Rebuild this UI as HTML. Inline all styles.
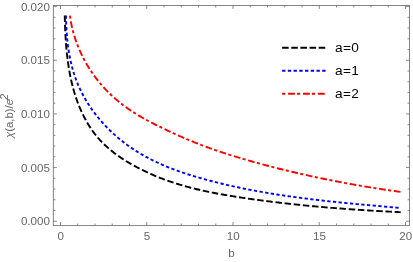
<!DOCTYPE html>
<html><head><meta charset="utf-8"><title>plot</title>
<style>
html,body{margin:0;padding:0;background:#fff;}
body{width:413px;height:262px;overflow:hidden;font-family:"Liberation Sans",sans-serif;}
svg{display:block;will-change:transform;}
text{font-family:"Liberation Sans",sans-serif;}
.tl{font-size:11.6px;fill:#666666;}
.lg{font-size:13.7px;fill:#000;}
</style></head><body>
<svg width="413" height="262" viewBox="0 0 413 262">
<rect x="0" y="0" width="413" height="262" fill="#fff"/>

<g fill="none" stroke-width="1.9" stroke-linejoin="round">
<path d="M64.78,15.60 L64.83,18.07 L64.86,19.23 L64.89,20.40 L64.92,21.56 L64.95,22.73 L64.99,23.90 L65.03,25.07 L65.07,26.24 L65.11,27.42 L65.16,28.59 L65.20,29.77 L65.25,30.95 L65.31,32.13 L65.37,33.32 L65.43,34.50 L65.49,35.69 L65.56,36.87 L65.63,38.06 L65.70,39.25 L65.78,40.44 L65.86,41.63 L65.94,42.82 L66.03,44.01 L66.13,45.20 L66.22,46.40 L66.33,47.59 L66.43,48.78 L66.54,49.98 L66.66,51.17 L66.78,52.36 L66.90,53.56 L67.03,54.75 L67.16,55.94 L67.30,57.14 L67.45,58.33 L67.60,59.52 L67.75,60.71 L67.91,61.91 L68.08,63.10 L68.25,64.29 L68.43,65.48 L68.61,66.66 L68.80,67.85 L68.99,69.04 L69.20,70.22 L69.40,71.41 L69.62,72.59 L69.84,73.77 L70.07,74.95 L70.30,76.13 L70.54,77.30 L70.79,78.48 L71.04,79.65 L71.30,80.82 L71.57,81.99 L71.85,83.15 L72.13,84.32 L72.42,85.48 L72.72,86.64 L73.03,87.79 L73.34,88.95 L73.66,90.10 L73.99,91.25 L74.33,92.40 L74.68,93.54 L75.03,94.68 L75.39,95.82 L75.76,96.95 L76.14,98.08 L76.53,99.21 L76.93,100.33 L77.33,101.46 L77.75,102.57 L78.17,103.69 L78.61,104.80 L79.05,105.90 L79.50,107.00 L79.96,108.10 L80.43,109.19 L80.91,110.28 L81.40,111.36 L81.89,112.44 L82.40,113.51 L82.91,114.58 L83.44,115.64 L83.98,116.70 L84.52,117.74 L85.07,118.79 L85.64,119.82 L86.21,120.85 L86.79,121.88 L87.38,122.89 L87.99,123.90 L88.60,124.90 L89.22,125.90 L89.85,126.88 L90.49,127.86 L91.14,128.83 L91.80,129.79 L92.47,130.75 L93.15,131.69 L93.84,132.63 L94.54,133.56 L95.25,134.47 L95.97,135.38 L96.71,136.28 L97.45,137.17 L98.20,138.05 L98.96,138.92 L99.73,139.78 L100.51,140.63 L101.30,141.47 L102.10,142.30 L102.92,143.12 L103.74,143.93 L104.56,144.74 L105.40,145.53 L106.25,146.31 L107.10,147.09 L107.97,147.85 L108.84,148.61 L109.72,149.36 L110.61,150.10 L111.50,150.83 L112.41,151.55 L113.32,152.27 L114.23,152.97 L115.16,153.67 L116.09,154.36 L117.03,155.04 L117.97,155.72 L118.92,156.39 L119.88,157.05 L120.85,157.70 L121.81,158.35 L122.79,158.99 L123.77,159.62 L124.76,160.24 L125.75,160.86 L126.74,161.48 L127.74,162.08 L128.75,162.68 L129.76,163.27 L130.77,163.86 L131.79,164.44 L132.81,165.02 L133.83,165.59 L134.86,166.15 L135.90,166.71 L136.93,167.26 L137.97,167.81 L139.01,168.35 L140.06,168.89 L141.11,169.42 L142.16,169.94 L143.22,170.46 L144.28,170.97 L145.34,171.48 L146.40,171.98 L147.47,172.48 L148.54,172.97 L149.62,173.46 L150.69,173.94 L151.77,174.42 L152.86,174.89 L153.94,175.35 L155.03,175.81 L156.12,176.27 L157.22,176.72 L158.31,177.16 L159.41,177.60 L160.52,178.03 L161.62,178.46 L162.73,178.88 L163.84,179.30 L164.95,179.71 L166.06,180.12 L167.18,180.52 L168.30,180.92 L169.42,181.31 L170.54,181.69 L171.67,182.08 L172.80,182.45 L173.93,182.82 L175.06,183.19 L176.19,183.55 L177.33,183.91 L178.47,184.26 L179.61,184.60 L180.75,184.94 L181.89,185.28 L183.04,185.61 L184.19,185.94 L185.34,186.26 L186.49,186.58 L187.64,186.89 L188.80,187.20 L189.95,187.51 L191.11,187.81 L192.27,188.11 L193.43,188.40 L194.59,188.69 L195.75,188.97 L196.92,189.25 L198.08,189.53 L199.25,189.80 L200.42,190.07 L201.59,190.34 L202.76,190.60 L203.93,190.86 L205.10,191.11 L206.28,191.36 L207.45,191.61 L208.63,191.85 L209.80,192.10 L210.98,192.33 L212.16,192.57 L213.34,192.80 L214.52,193.03 L215.70,193.26 L216.88,193.48 L218.06,193.70 L219.24,193.92 L220.43,194.14 L221.61,194.35 L222.80,194.56 L223.98,194.77 L225.17,194.97 L226.35,195.18 L227.54,195.38 L228.72,195.58 L229.91,195.77 L231.09,195.97 L232.28,196.16 L233.47,196.35 L234.66,196.54 L235.84,196.73 L237.03,196.91 L238.22,197.10 L239.40,197.28 L240.59,197.46 L241.78,197.64 L242.96,197.82 L244.15,197.99 L245.33,198.17 L246.52,198.34 L247.71,198.51 L248.89,198.69 L250.08,198.86 L251.26,199.02 L252.45,199.19 L253.63,199.36 L254.81,199.52 L256.00,199.69 L257.18,199.85 L258.37,200.01 L259.55,200.17 L260.73,200.33 L261.92,200.48 L263.10,200.64 L264.28,200.80 L265.47,200.95 L266.65,201.10 L267.83,201.25 L269.02,201.40 L270.20,201.55 L271.38,201.70 L272.56,201.85 L273.74,201.99 L274.93,202.13 L276.11,202.28 L277.29,202.42 L278.47,202.56 L279.66,202.70 L280.84,202.84 L282.02,202.98 L283.20,203.11 L284.38,203.25 L285.56,203.38 L286.75,203.51 L287.93,203.65 L289.11,203.78 L290.29,203.91 L291.47,204.04 L292.65,204.16 L293.84,204.29 L295.02,204.42 L296.20,204.54 L297.38,204.66 L298.56,204.79 L299.74,204.91 L300.93,205.03 L302.11,205.15 L303.29,205.27 L304.47,205.38 L305.65,205.50 L306.84,205.62 L308.02,205.73 L309.20,205.84 L310.38,205.96 L311.57,206.07 L312.75,206.18 L313.93,206.29 L315.12,206.40 L316.30,206.51 L317.48,206.61 L318.67,206.72 L319.85,206.82 L321.03,206.93 L322.22,207.03 L323.40,207.13 L324.58,207.24 L325.77,207.34 L326.95,207.44 L328.14,207.54 L329.32,207.63 L330.51,207.73 L331.69,207.83 L332.88,207.92 L334.06,208.02 L335.25,208.11 L336.44,208.21 L337.62,208.30 L338.81,208.39 L340.00,208.48 L341.18,208.57 L342.37,208.66 L343.56,208.75 L344.75,208.84 L345.93,208.92 L347.12,209.01 L348.31,209.10 L349.50,209.18 L350.69,209.26 L351.88,209.35 L353.07,209.43 L354.26,209.51 L355.45,209.59 L356.64,209.67 L357.83,209.75 L359.02,209.83 L360.22,209.91 L361.41,209.99 L362.60,210.07 L363.79,210.14 L364.99,210.22 L366.18,210.29 L367.38,210.37 L368.57,210.44 L369.77,210.51 L370.96,210.59 L372.16,210.66 L373.35,210.73 L374.55,210.80 L375.75,210.87 L376.94,210.94 L378.14,211.01 L379.34,211.08 L380.54,211.15 L381.74,211.21 L382.94,211.28 L384.14,211.35 L385.34,211.41 L386.54,211.48 L387.74,211.54 L388.94,211.61 L390.15,211.67 L391.35,211.73 L392.55,211.80 L393.76,211.86 L394.96,211.92 L396.17,211.98 L397.37,212.04 L398.58,212.10 L399.79,212.16 L400.70,212.21" stroke="#000" stroke-dasharray="6.5 2.7"/>
<path d="M65.95,15.60 L65.97,16.95 L66.00,18.17 L66.04,19.39 L66.07,20.60 L66.11,21.82 L66.16,23.03 L66.21,24.24 L66.26,25.45 L66.32,26.65 L66.38,27.85 L66.45,29.06 L66.52,30.26 L66.60,31.45 L66.68,32.65 L66.77,33.84 L66.86,35.03 L66.96,36.22 L67.06,37.40 L67.17,38.59 L67.29,39.77 L67.41,40.95 L67.54,42.12 L67.67,43.29 L67.81,44.46 L67.96,45.63 L68.11,46.80 L68.27,47.96 L68.44,49.12 L68.61,50.27 L68.79,51.43 L68.98,52.58 L69.17,53.73 L69.37,54.87 L69.58,56.01 L69.80,57.15 L70.02,58.29 L70.25,59.42 L70.49,60.55 L70.74,61.67 L71.00,62.80 L71.26,63.92 L71.53,65.03 L71.81,66.15 L72.10,67.26 L72.40,68.36 L72.70,69.46 L73.02,70.56 L73.34,71.66 L73.68,72.75 L74.02,73.84 L74.37,74.92 L74.73,76.00 L75.11,77.08 L75.49,78.15 L75.88,79.22 L76.28,80.29 L76.69,81.35 L77.11,82.41 L77.54,83.46 L77.98,84.51 L78.42,85.56 L78.88,86.60 L79.35,87.63 L79.83,88.67 L80.31,89.70 L80.81,90.72 L81.31,91.74 L81.83,92.76 L82.35,93.77 L82.88,94.78 L83.42,95.78 L83.97,96.78 L84.52,97.77 L85.09,98.76 L85.66,99.74 L86.25,100.72 L86.84,101.70 L87.44,102.67 L88.05,103.64 L88.66,104.60 L89.28,105.55 L89.92,106.50 L90.56,107.45 L91.20,108.39 L91.86,109.33 L92.52,110.26 L93.19,111.18 L93.87,112.11 L94.55,113.02 L95.25,113.93 L95.95,114.84 L96.65,115.74 L97.37,116.63 L98.09,117.52 L98.82,118.41 L99.56,119.28 L100.30,120.16 L101.05,121.03 L101.80,121.89 L102.57,122.74 L103.34,123.60 L104.11,124.44 L104.89,125.28 L105.68,126.11 L106.48,126.94 L107.28,127.77 L108.09,128.58 L108.90,129.39 L109.72,130.20 L110.54,131.00 L111.38,131.79 L112.21,132.58 L113.06,133.36 L113.90,134.13 L114.76,134.90 L115.62,135.66 L116.48,136.42 L117.35,137.17 L118.23,137.91 L119.11,138.65 L119.99,139.38 L120.89,140.10 L121.78,140.82 L122.68,141.53 L123.59,142.23 L124.50,142.93 L125.41,143.62 L126.33,144.31 L127.26,144.99 L128.19,145.66 L129.12,146.32 L130.06,146.98 L131.00,147.63 L131.95,148.27 L132.90,148.91 L133.85,149.54 L134.81,150.16 L135.77,150.78 L136.74,151.39 L137.71,151.99 L138.68,152.59 L139.66,153.18 L140.64,153.76 L141.62,154.34 L142.61,154.91 L143.60,155.47 L144.60,156.03 L145.60,156.58 L146.60,157.13 L147.60,157.67 L148.61,158.20 L149.62,158.73 L150.64,159.25 L151.66,159.77 L152.68,160.28 L153.70,160.78 L154.73,161.28 L155.76,161.77 L156.79,162.26 L157.83,162.74 L158.87,163.22 L159.91,163.69 L160.95,164.16 L162.00,164.62 L163.05,165.07 L164.10,165.52 L165.16,165.97 L166.21,166.41 L167.27,166.85 L168.33,167.28 L169.40,167.70 L170.46,168.13 L171.53,168.54 L172.60,168.95 L173.67,169.36 L174.75,169.77 L175.82,170.17 L176.90,170.56 L177.98,170.95 L179.06,171.34 L180.15,171.72 L181.23,172.10 L182.32,172.47 L183.41,172.84 L184.50,173.21 L185.59,173.57 L186.68,173.93 L187.78,174.28 L188.87,174.63 L189.97,174.98 L191.07,175.32 L192.17,175.66 L193.27,176.00 L194.37,176.34 L195.47,176.67 L196.58,176.99 L197.68,177.32 L198.79,177.64 L199.89,177.96 L201.00,178.27 L202.11,178.58 L203.22,178.89 L204.33,179.20 L205.44,179.50 L206.55,179.81 L207.66,180.10 L208.77,180.40 L209.88,180.69 L210.99,180.98 L212.11,181.27 L213.22,181.56 L214.33,181.84 L215.44,182.13 L216.56,182.41 L217.67,182.68 L218.79,182.96 L219.90,183.23 L221.01,183.50 L222.13,183.77 L223.24,184.04 L224.36,184.30 L225.48,184.56 L226.59,184.82 L227.71,185.08 L228.82,185.33 L229.94,185.59 L231.06,185.84 L232.17,186.09 L233.29,186.34 L234.41,186.58 L235.53,186.82 L236.65,187.06 L237.77,187.30 L238.88,187.54 L240.00,187.78 L241.12,188.01 L242.24,188.24 L243.36,188.47 L244.48,188.70 L245.61,188.92 L246.73,189.15 L247.85,189.37 L248.97,189.59 L250.09,189.81 L251.21,190.02 L252.34,190.24 L253.46,190.45 L254.58,190.66 L255.71,190.87 L256.83,191.07 L257.95,191.28 L259.08,191.48 L260.20,191.69 L261.33,191.89 L262.45,192.08 L263.58,192.28 L264.70,192.48 L265.83,192.67 L266.96,192.86 L268.08,193.05 L269.21,193.24 L270.34,193.43 L271.47,193.61 L272.59,193.80 L273.72,193.98 L274.85,194.16 L275.98,194.34 L277.11,194.52 L278.24,194.69 L279.37,194.87 L280.50,195.04 L281.63,195.21 L282.76,195.38 L283.89,195.55 L285.02,195.72 L286.15,195.89 L287.29,196.05 L288.42,196.22 L289.55,196.38 L290.68,196.54 L291.82,196.70 L292.95,196.86 L294.09,197.02 L295.22,197.17 L296.35,197.33 L297.49,197.48 L298.62,197.63 L299.76,197.78 L300.90,197.93 L302.03,198.08 L303.17,198.23 L304.31,198.37 L305.44,198.52 L306.58,198.66 L307.72,198.80 L308.86,198.95 L310.00,199.09 L311.14,199.23 L312.27,199.36 L313.41,199.50 L314.55,199.64 L315.69,199.77 L316.83,199.91 L317.98,200.04 L319.12,200.17 L320.26,200.30 L321.40,200.44 L322.54,200.56 L323.69,200.69 L324.83,200.82 L325.97,200.95 L327.12,201.07 L328.26,201.20 L329.40,201.32 L330.55,201.45 L331.69,201.57 L332.84,201.69 L333.99,201.81 L335.13,201.93 L336.28,202.05 L337.43,202.17 L338.57,202.29 L339.72,202.41 L340.87,202.52 L342.02,202.64 L343.16,202.75 L344.31,202.87 L345.46,202.98 L346.61,203.10 L347.76,203.21 L348.91,203.32 L350.06,203.43 L351.21,203.54 L352.37,203.65 L353.52,203.76 L354.67,203.87 L355.82,203.98 L356.98,204.09 L358.13,204.20 L359.28,204.30 L360.44,204.41 L361.59,204.52 L362.75,204.62 L363.90,204.73 L365.06,204.84 L366.21,204.94 L367.37,205.04 L368.52,205.15 L369.68,205.25 L370.84,205.36 L372.00,205.46 L373.15,205.56 L374.31,205.67 L375.47,205.77 L376.63,205.87 L377.79,205.97 L378.95,206.07 L380.11,206.17 L381.27,206.28 L382.43,206.38 L383.59,206.48 L384.76,206.58 L385.92,206.68 L387.08,206.78 L388.24,206.88 L389.41,206.98 L390.57,207.08 L391.74,207.18 L392.90,207.28 L394.06,207.38 L395.23,207.48 L396.40,207.58 L397.56,207.68 L398.73,207.78 L399.90,207.88 L400.70,207.95" stroke="#0000ff" stroke-dasharray="3.3 2.4"/>
<path d="M69.97,15.60 L70.10,16.62 L70.24,17.66 L70.39,18.70 L70.56,19.74 L70.73,20.78 L70.91,21.82 L71.10,22.85 L71.30,23.89 L71.51,24.93 L71.73,25.97 L71.96,27.00 L72.20,28.04 L72.44,29.08 L72.70,30.11 L72.97,31.14 L73.24,32.18 L73.53,33.21 L73.82,34.24 L74.13,35.27 L74.44,36.29 L74.76,37.32 L75.09,38.34 L75.43,39.36 L75.77,40.38 L76.13,41.40 L76.49,42.42 L76.87,43.43 L77.25,44.44 L77.64,45.45 L78.03,46.45 L78.44,47.46 L78.86,48.46 L79.28,49.45 L79.71,50.45 L80.15,51.44 L80.59,52.42 L81.05,53.41 L81.51,54.39 L81.98,55.36 L82.46,56.34 L82.94,57.31 L83.44,58.27 L83.94,59.23 L84.45,60.19 L84.96,61.14 L85.48,62.09 L86.01,63.03 L86.55,63.97 L87.10,64.90 L87.65,65.83 L88.21,66.76 L88.77,67.67 L89.34,68.59 L89.92,69.50 L90.51,70.40 L91.10,71.30 L91.70,72.19 L92.31,73.07 L92.92,73.96 L93.54,74.83 L94.16,75.70 L94.80,76.56 L95.43,77.42 L96.08,78.27 L96.73,79.11 L97.39,79.95 L98.05,80.78 L98.72,81.61 L99.39,82.43 L100.07,83.24 L100.76,84.05 L101.45,84.85 L102.15,85.65 L102.85,86.44 L103.56,87.23 L104.28,88.00 L105.00,88.78 L105.72,89.54 L106.45,90.30 L107.19,91.06 L107.93,91.81 L108.68,92.55 L109.43,93.29 L110.18,94.02 L110.95,94.74 L111.71,95.46 L112.48,96.18 L113.26,96.88 L114.04,97.58 L114.82,98.28 L115.61,98.97 L116.41,99.65 L117.21,100.33 L118.01,101.00 L118.82,101.67 L119.63,102.33 L120.45,102.98 L121.27,103.63 L122.09,104.27 L122.92,104.91 L123.75,105.54 L124.59,106.16 L125.43,106.78 L126.27,107.39 L127.12,108.00 L127.97,108.60 L128.82,109.19 L129.68,109.78 L130.54,110.36 L131.41,110.94 L132.28,111.51 L133.15,112.08 L134.02,112.64 L134.90,113.19 L135.78,113.74 L136.67,114.29 L137.55,114.83 L138.44,115.36 L139.34,115.89 L140.23,116.42 L141.13,116.94 L142.03,117.46 L142.94,117.97 L143.84,118.48 L144.75,118.99 L145.66,119.49 L146.58,119.99 L147.49,120.49 L148.41,120.98 L149.33,121.47 L150.25,121.95 L151.18,122.44 L152.10,122.92 L153.03,123.40 L153.96,123.87 L154.90,124.35 L155.83,124.82 L156.77,125.29 L157.70,125.76 L158.64,126.22 L159.58,126.69 L160.52,127.15 L161.47,127.61 L162.41,128.07 L163.36,128.53 L164.31,128.99 L165.26,129.44 L166.21,129.90 L167.16,130.35 L168.11,130.80 L169.07,131.25 L170.02,131.70 L170.98,132.14 L171.94,132.59 L172.90,133.03 L173.86,133.47 L174.82,133.91 L175.79,134.35 L176.75,134.78 L177.72,135.21 L178.69,135.65 L179.66,136.08 L180.63,136.50 L181.60,136.93 L182.57,137.35 L183.55,137.77 L184.52,138.19 L185.50,138.61 L186.48,139.03 L187.46,139.44 L188.44,139.85 L189.42,140.26 L190.40,140.67 L191.38,141.08 L192.37,141.48 L193.35,141.88 L194.34,142.28 L195.33,142.67 L196.32,143.07 L197.31,143.46 L198.30,143.85 L199.29,144.24 L200.29,144.62 L201.28,145.01 L202.28,145.39 L203.28,145.77 L204.27,146.14 L205.27,146.51 L206.27,146.89 L207.27,147.25 L208.28,147.62 L209.28,147.98 L210.28,148.34 L211.29,148.70 L212.29,149.06 L213.30,149.41 L214.31,149.76 L215.32,150.11 L216.33,150.46 L217.34,150.81 L218.35,151.15 L219.36,151.49 L220.38,151.83 L221.39,152.16 L222.40,152.50 L223.42,152.83 L224.44,153.16 L225.45,153.49 L226.47,153.82 L227.49,154.14 L228.51,154.47 L229.53,154.79 L230.55,155.11 L231.58,155.43 L232.60,155.75 L233.62,156.06 L234.65,156.38 L235.67,156.69 L236.70,157.00 L237.72,157.31 L238.75,157.62 L239.78,157.92 L240.81,158.23 L241.84,158.53 L242.87,158.84 L243.90,159.14 L244.93,159.44 L245.96,159.74 L247.00,160.04 L248.03,160.34 L249.06,160.63 L250.10,160.93 L251.13,161.22 L252.17,161.51 L253.20,161.80 L254.24,162.10 L255.28,162.38 L256.32,162.67 L257.35,162.96 L258.39,163.25 L259.43,163.53 L260.47,163.81 L261.51,164.10 L262.55,164.38 L263.59,164.66 L264.64,164.94 L265.68,165.21 L266.72,165.49 L267.76,165.77 L268.81,166.04 L269.85,166.31 L270.90,166.59 L271.94,166.86 L272.99,167.13 L274.03,167.40 L275.08,167.66 L276.12,167.93 L277.17,168.20 L278.22,168.46 L279.26,168.72 L280.31,168.98 L281.36,169.25 L282.41,169.50 L283.46,169.76 L284.50,170.02 L285.55,170.28 L286.60,170.53 L287.65,170.79 L288.70,171.04 L289.75,171.29 L290.80,171.54 L291.85,171.79 L292.90,172.04 L293.95,172.29 L295.00,172.53 L296.05,172.78 L297.11,173.02 L298.16,173.27 L299.21,173.51 L300.26,173.75 L301.31,173.99 L302.36,174.23 L303.42,174.46 L304.47,174.70 L305.52,174.94 L306.57,175.17 L307.62,175.40 L308.68,175.63 L309.73,175.87 L310.78,176.10 L311.83,176.32 L312.89,176.55 L313.94,176.78 L314.99,177.00 L316.04,177.23 L317.10,177.45 L318.15,177.67 L319.20,177.89 L320.25,178.11 L321.30,178.33 L322.36,178.55 L323.41,178.77 L324.46,178.98 L325.51,179.20 L326.56,179.41 L327.62,179.62 L328.67,179.84 L329.72,180.05 L330.77,180.26 L331.82,180.46 L332.87,180.67 L333.92,180.88 L334.97,181.08 L336.02,181.29 L337.07,181.49 L338.12,181.69 L339.17,181.89 L340.22,182.09 L341.27,182.29 L342.32,182.49 L343.37,182.68 L344.41,182.88 L345.46,183.07 L346.51,183.27 L347.56,183.46 L348.60,183.65 L349.65,183.84 L350.70,184.03 L351.74,184.22 L352.79,184.40 L353.83,184.59 L354.88,184.77 L355.92,184.96 L356.97,185.14 L358.01,185.32 L359.06,185.50 L360.10,185.68 L361.14,185.86 L362.18,186.04 L363.22,186.22 L364.27,186.39 L365.31,186.57 L366.35,186.74 L367.39,186.91 L368.42,187.08 L369.46,187.25 L370.50,187.42 L371.54,187.59 L372.58,187.76 L373.61,187.92 L374.65,188.09 L375.68,188.25 L376.72,188.42 L377.75,188.58 L378.79,188.74 L379.82,188.90 L380.85,189.06 L381.88,189.22 L382.91,189.38 L383.94,189.53 L384.97,189.69 L386.00,189.84 L387.03,189.99 L388.06,190.15 L389.09,190.30 L390.11,190.45 L391.14,190.60 L392.16,190.74 L393.19,190.89 L394.21,191.04 L395.23,191.18 L396.26,191.33 L397.28,191.47 L398.30,191.61 L400.70,191.94" stroke="#ff0000" stroke-dasharray="3.1 2.7 6.7 2.4"/>
</g>
<g stroke="#666666" stroke-width="0.8" fill="none">
<rect x="53.3" y="5.4" width="356.3" height="220.25"/>
<path stroke-width="0.75" d="M60.50,225.65 v-3.6 M60.50,5.4 v3.6 M77.75,225.65 v-2.1 M77.75,5.4 v2.1 M95.00,225.65 v-2.1 M95.00,5.4 v2.1 M112.25,225.65 v-2.1 M112.25,5.4 v2.1 M129.50,225.65 v-2.1 M129.50,5.4 v2.1 M146.75,225.65 v-3.6 M146.75,5.4 v3.6 M164.00,225.65 v-2.1 M164.00,5.4 v2.1 M181.25,225.65 v-2.1 M181.25,5.4 v2.1 M198.50,225.65 v-2.1 M198.50,5.4 v2.1 M215.75,225.65 v-2.1 M215.75,5.4 v2.1 M233.00,225.65 v-3.6 M233.00,5.4 v3.6 M250.25,225.65 v-2.1 M250.25,5.4 v2.1 M267.50,225.65 v-2.1 M267.50,5.4 v2.1 M284.75,225.65 v-2.1 M284.75,5.4 v2.1 M302.00,225.65 v-2.1 M302.00,5.4 v2.1 M319.25,225.65 v-3.6 M319.25,5.4 v3.6 M336.50,225.65 v-2.1 M336.50,5.4 v2.1 M353.75,225.65 v-2.1 M353.75,5.4 v2.1 M371.00,225.65 v-2.1 M371.00,5.4 v2.1 M388.25,225.65 v-2.1 M388.25,5.4 v2.1 M405.50,225.65 v-3.6 M405.50,5.4 v3.6 M53.3,221.20 h3.6 M409.6,221.20 h-3.6 M53.3,210.47 h2.1 M409.6,210.47 h-2.1 M53.3,199.74 h2.1 M409.6,199.74 h-2.1 M53.3,189.01 h2.1 M409.6,189.01 h-2.1 M53.3,178.28 h2.1 M409.6,178.28 h-2.1 M53.3,167.55 h3.6 M409.6,167.55 h-3.6 M53.3,156.82 h2.1 M409.6,156.82 h-2.1 M53.3,146.09 h2.1 M409.6,146.09 h-2.1 M53.3,135.36 h2.1 M409.6,135.36 h-2.1 M53.3,124.63 h2.1 M409.6,124.63 h-2.1 M53.3,113.90 h3.6 M409.6,113.90 h-3.6 M53.3,103.17 h2.1 M409.6,103.17 h-2.1 M53.3,92.44 h2.1 M409.6,92.44 h-2.1 M53.3,81.71 h2.1 M409.6,81.71 h-2.1 M53.3,70.98 h2.1 M409.6,70.98 h-2.1 M53.3,60.25 h3.6 M409.6,60.25 h-3.6 M53.3,49.52 h2.1 M409.6,49.52 h-2.1 M53.3,38.79 h2.1 M409.6,38.79 h-2.1 M53.3,28.06 h2.1 M409.6,28.06 h-2.1 M53.3,17.33 h2.1 M409.6,17.33 h-2.1 M53.3,6.60 h3.6 M409.6,6.60 h-3.6"/>
</g>
<text class="tl" x="60.80" y="239.8" text-anchor="middle">0</text>
<text class="tl" x="147.05" y="239.8" text-anchor="middle">5</text>
<text class="tl" x="233.30" y="239.8" text-anchor="middle">10</text>
<text class="tl" x="319.55" y="239.8" text-anchor="middle">15</text>
<text class="tl" x="405.80" y="239.8" text-anchor="middle">20</text>
<text class="tl" x="49.9" y="225.20" text-anchor="end">0.000</text>
<text class="tl" x="49.9" y="171.55" text-anchor="end">0.005</text>
<text class="tl" x="49.9" y="117.90" text-anchor="end">0.010</text>
<text class="tl" x="49.9" y="64.25" text-anchor="end">0.015</text>
<text class="tl" x="49.9" y="10.60" text-anchor="end">0.020</text>
<text class="tl" x="231.6" y="257.4" text-anchor="middle">b</text>
<text class="tl" style="font-size:11.35px" transform="translate(13.1,138.0) rotate(-90)" text-anchor="start"><tspan font-style="italic">&#967;</tspan>(a,b)/<tspan font-style="italic">e</tspan><tspan font-style="italic" font-size="11px" dx="-1.0" dy="-4.9">2</tspan></text>
<path d="M282.1,47.75 H325.6" stroke="#000" stroke-width="1.9" stroke-dasharray="6.55 2.6" fill="none"/>
<text class="lg" x="335" y="52.25" letter-spacing="0.3">a=0</text>
<path d="M282.1,70.75 H325.6" stroke="#0000ff" stroke-width="1.9" stroke-dasharray="3.35 2.38" fill="none"/>
<text class="lg" x="335" y="75.25" letter-spacing="0.3">a=1</text>
<path d="M282.1,93.75 H325.6" stroke="#ff0000" stroke-width="1.9" stroke-dasharray="3.1 2.9 6.8 2.1" fill="none"/>
<text class="lg" x="335" y="98.25" letter-spacing="0.3">a=2</text>
</svg></body></html>
